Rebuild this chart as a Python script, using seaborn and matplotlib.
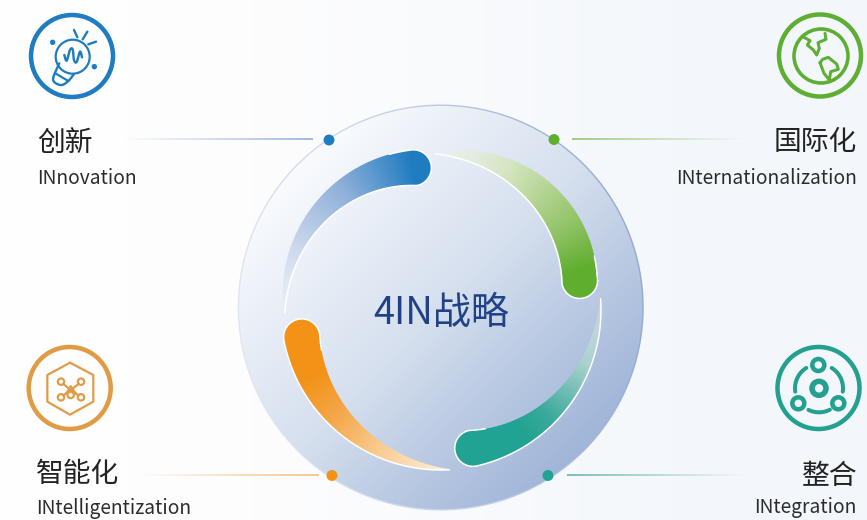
# 4IN strategy wheel with four labelled corners

import numpy as np
import pandas as pd
import matplotlib
matplotlib.use("Agg")
import matplotlib.pyplot as plt
import seaborn as sns
from matplotlib.colors import LinearSegmentedColormap, to_rgba
from matplotlib.patches import Circle, Polygon

# =====================================================
# DATA
# =====================================================

title = "4IN战略"
names_cn = ["创新", "国际化", "智能化", "整合"]
names_en = ["INnovation", "INternationalization", "INtelligentization", "INtegration"]
colors = ["#1f7cc1", "#5fae2e", "#f29318", "#20a392"]
icon_colors = ["#1f7cc1", "#5fae34", "#e09b45", "#24a090"]

dot_x = [329, 554, 332, 548]
dot_y = [140, 139.5, 475.5, 475.5]
icon_x = [72, 820, 69.7, 818.5]
icon_y = [56, 55.5, 388, 388]

label_x = [37, 857, 36, 857]
label_cn_y = [142.5, 142.5, 474.5, 475.5]
label_en_y = [178.5, 178.5, 508.5, 507.5]
label_ha = ["left", "right", "left", "right"]

line_start = [122, 745, 137, 745]   # faded end
line_end = [313, 572, 319, 567]     # coloured end
line_y = [139.5, 139, 475.3, 475]
line_colors = ["#a3bbdf", "#a2cc84", "#f5c793", "#7cc0b6"]

# ring pieces, angles run clockwise from tail to head
arc_tail = [181, 92, 4, 273]
arc_head = [101, 12, -77, 191]
arc_outer = [[157, 164, 165, 163], [156, 167, 166, 160], [160, 160, 160, 160], [160, 160, 160, 160]]
arc_inner = [[156, 150, 139, 127], [156, 146, 134, 124], [159, 148, 134, 124], [159, 146, 132, 124]]
white_edge = ["inner", "inner", "outer", "outer"]
arc_stops = [
    [(0, to_rgba("#d5dff0", 0)), (0.3, "#cdd9ed"), (0.65, "#8fb0da"), (1, "#1f7cc1")],
    [(0, to_rgba("#f1f5e8", 0.3)), (0.35, "#d5e5bf"), (0.7, "#97c66e"), (0.95, "#5fae2e"), (1, "#5fae2e")],
    [(0, to_rgba("#dcebea", 0.3)), (0.3, "#a9d2cd"), (0.6, "#3aa99b"), (0.75, "#20a392"), (1, "#20a392")],
    [(0, "#fdf0dd"), (0.3, "#f9cf98"), (0.6, "#f4a545"), (0.8, "#f29318"), (1, "#f29318")],
]

# =====================================================
# FIGURE
# =====================================================

sns.set_theme(style="white")
plt.rcParams["font.family"] = ["Noto Sans CJK SC", "DejaVu Sans"]

W, H = 867, 520
CX, CY, R = 440.7, 307.5, 202
RING_X, RING_Y = 441, 310

fig = plt.figure(figsize=(W / 100, H / 100), dpi=100)
ax = fig.add_axes([0, 0, 1, 1])

xx, yy = np.meshgrid(np.arange(W) + 0.5, np.arange(H) + 0.5)


def gradient_image(values, stops, clip=None, extent=(0, W, H, 0), z=1):
    cmap = LinearSegmentedColormap.from_list("g", stops, N=512)
    img = ax.imshow(values, cmap=cmap, vmin=0, vmax=1, extent=extent, zorder=z,
                    interpolation="bilinear", aspect="auto")
    if clip is not None:
        ax.add_patch(clip)
        clip.set_visible(False)
        img.set_clip_path(clip)
    return img


# page background
gradient_image(np.clip(xx / 720, 0, 1), [(0, "#ffffff"), (0.35, "#fdfdfe"), (1, "#f3f7fb")], z=0)

# disc rim then disc body
diag = np.clip(((xx - CX) + (yy - CY)) / (2.83 * R) + 0.5, 0, 1)
rim = np.clip(((xx - CX) - (yy - CY) * 0.2) / (2 * R) + 0.5, 0, 1)
gradient_image(rim, [(0, "#dfe6f3"), (0.5, "#c4d1e8"), (1, "#92a9d4")],
               clip=Circle((CX, CY), R + 1.0, transform=ax.transData), z=1)
gradient_image(diag, [(0, "#f9fbfe"), (0.5, "#d5dfee"), (0.8, "#b4c5e0"), (1, "#a0b5d8")],
               clip=Circle((CX, CY), R - 0.4, transform=ax.transData), z=2)

# =====================================================
# RING PIECES
# =====================================================


def polar(radius, deg):
    a = np.radians(deg)
    return RING_X + radius * np.cos(a), RING_Y - radius * np.sin(a)


for tail, head, outer, inner, stops, edge in zip(arc_tail, arc_head, arc_outer, arc_inner, arc_stops, white_edge):
    ctrl = np.linspace(0, 1, 4)
    t = np.linspace(0, 1, 120)
    out_r = np.polyval(np.polyfit(ctrl, outer, 2), t)
    in_r = np.polyval(np.polyfit(ctrl, inner, 2), t)
    deg = tail + (head - tail) * t
    ox, oy = polar(out_r, deg)
    ix, iy = polar(in_r, deg)

    # round cap at the head
    mx, my = (ox[-1] + ix[-1]) / 2, (oy[-1] + iy[-1]) / 2
    rad = np.hypot(ox[-1] - ix[-1], oy[-1] - iy[-1]) / 2
    start = np.arctan2(oy[-1] - my, ox[-1] - mx)
    side = np.linspace(0, np.pi, 30)
    h = np.radians(head)
    tangent = np.array([np.sin(h), np.cos(h)])  # clockwise on screen, y down
    if np.cos(start + np.pi / 2) * tangent[0] + np.sin(start + np.pi / 2) * tangent[1] < 0:
        side = -side
    cx_pts = mx + rad * np.cos(start + side)
    cy_pts = my + rad * np.sin(start + side)

    shape_x = np.r_[ox, cx_pts, ix[::-1]]
    shape_y = np.r_[oy, cy_pts, iy[::-1]]

    # colour follows the angle from tail to head
    ang = np.degrees(np.arctan2(RING_Y - yy, xx - RING_X))
    dist = ((tail - ang) % 360) / ((tail - head) % 360)
    dist[dist > 1.5] = 0
    gradient_image(np.clip(dist, 0, 1), stops,
                   clip=Polygon(np.c_[shape_x, shape_y], closed=True, transform=ax.transData), z=3)

    # white outline runs along one side and round the head
    if edge == "inner":
        lx, ly = np.r_[ix, cx_pts[::-1], ox[-12:][::-1]], np.r_[iy, cy_pts[::-1], oy[-12:][::-1]]
    else:
        lx, ly = np.r_[ox, cx_pts, ix[-12:][::-1]], np.r_[oy, cy_pts, iy[-12:][::-1]]
    ax.plot(lx, ly, color="white", lw=1.1, zorder=4, solid_capstyle="round")

# =====================================================
# LEADER LINES AND DOTS
# =====================================================

for x0, x1, y, c in zip(line_start, line_end, line_y, line_colors):
    vals = np.linspace(0, 1, 200)[None, :]
    stops = [to_rgba(c, 0), to_rgba(c, 1)]
    lo, hi = min(x0, x1), max(x0, x1)
    if x0 > x1:
        stops = stops[::-1]
    gradient_image(vals, stops, extent=(lo, hi, y + 0.8, y - 0.8), z=3)

dots = pd.DataFrame({"x": dot_x, "y": dot_y, "name": names_en})
sns.scatterplot(data=dots, x="x", y="y", hue="name", palette=dict(zip(names_en, colors)),
                s=62, linewidth=0, legend=False, ax=ax, zorder=6)

# =====================================================
# ICONS
# =====================================================


def ring(x, y, r, c, px):
    ax.add_patch(Circle((x, y), r, fill=False, edgecolor=c, lw=px * 0.72, zorder=6))


def smooth(pts, n=12):
    # catmull-rom through the given points
    p = np.vstack([pts[0], pts, pts[-1]])
    out = []
    for i in range(1, len(p) - 2):
        for u in np.linspace(0, 1, n, endpoint=False):
            out.append(0.5 * (2 * p[i] + (p[i + 1] - p[i - 1]) * u
                              + (2 * p[i - 1] - 5 * p[i] + 4 * p[i + 1] - p[i + 2]) * u ** 2
                              + (3 * p[i] - p[i - 1] - 3 * p[i + 1] + p[i + 2]) * u ** 3))
    out.append(p[-1])
    return np.array(out)


def stroke(px_list, c, px, closed=False, curve=False):
    pts = np.array(px_list, dtype=float)
    if closed:
        pts = np.vstack([pts, pts[0]])
    if curve:
        pts = smooth(pts)
    ax.plot(pts[:, 0], pts[:, 1], color=c, lw=px * 0.72, zorder=6,
            solid_capstyle="round", solid_joinstyle="round")


for x, y, c in zip(icon_x, icon_y, icon_colors):
    ring(x, y, 41, c, 4.5)

# bulb
c = icon_colors[0]
z1 = lambda pts: [(a / 3, b / 3) for a, b in pts]
ring(72.7, 56.7, 17, c, 2.2)
stroke(z1([(178, 190), (160, 232), (165, 248), (185, 255), (205, 243), (222, 222)]), c, 2.4, curve=True)
stroke(z1([(166, 220), (205, 243)]), c, 2.2)
stroke(z1([(222, 90), (232, 112)]), c, 2.4)
stroke(z1([(262, 95), (248, 118)]), c, 2.4)
stroke(z1([(288, 125), (265, 133)]), c, 2.4)
stroke(z1([(193, 165), (200, 182), (210, 150), (218, 148), (222, 180), (230, 186), (240, 155), (246, 172)]), c, 2.4, curve=True)
ax.add_patch(Circle((158 / 3, 127 / 3), 2, color=c, zorder=6))
ax.add_patch(Circle((283 / 3, 200 / 3), 2, color=c, zorder=6))

# globe
c = icon_colors[1]
z2 = lambda pts: [(660 + a / 3, b / 3) for a, b in pts]
ring(821, 56, 27, c, 3.6)
stroke(z2([(432, 112), (450, 122), (442, 135), (460, 150), (470, 165), (478, 145), (474, 128), (498, 118), (495, 100)]), c, 3)
stroke(z2([(480, 188), (488, 178), (505, 172), (530, 192), (535, 208), (512, 215), (508, 240), (492, 220)]), c, 3, closed=True)

# hexagon network
c = icon_colors[2]
z3 = lambda pts: [(a / 3, 330 + b / 3) for a, b in pts]
hex_pts = [(210, 98), (280, 135), (280, 215), (210, 254), (142, 215), (142, 135)]
stroke(z3(hex_pts), c, 2.2, closed=True)
nodes = [(183, 155), (243, 155), (183, 202), (243, 202), (212, 195)]
for a, b in z3(nodes):
    ring(a, b, 3.2, c, 2.2)
stroke(z3([(190, 162), (212, 180), (236, 196)]), c, 2.2)
stroke(z3([(236, 162), (212, 180), (190, 196)]), c, 2.2)
stroke(z3([(198, 192), (212, 168), (228, 192)]), c, 2)

# three nodes on a circle
c = icon_colors[3]
ring(819, 388.3, 7, c, 5.5)
ring(818.3, 365, 6, c, 4.5)
ring(798.3, 403.3, 6, c, 4.5)
ring(838.3, 403.3, 6, c, 4.5)
for a0, a1 in [(122, 188), (58, -8), (244, 297)]:
    a = np.radians(np.linspace(a0, a1, 30))
    ax.plot(819 + 24 * np.cos(a), 388.3 - 24 * np.sin(a), color=c, lw=2.9, zorder=6, solid_capstyle="round")

# =====================================================
# TEXT
# =====================================================

for cn, en, x, yc, ye, ha in zip(names_cn, names_en, label_x, label_cn_y, label_en_y, label_ha):
    ax.text(x, yc, cn, fontsize=20, color="#222222", ha=ha, va="center", zorder=7)
    ax.text(x, ye, en, fontsize=13.8, color="#2b2b2b", ha=ha, va="center", zorder=7)

ax.text(441, 313, title, fontsize=27.4, color="#1f4284", ha="center", va="center", zorder=7)

ax.set_xlim(0, W)
ax.set_ylim(H, 0)
ax.axis("off")

fig.savefig("out.png", dpi=100)
